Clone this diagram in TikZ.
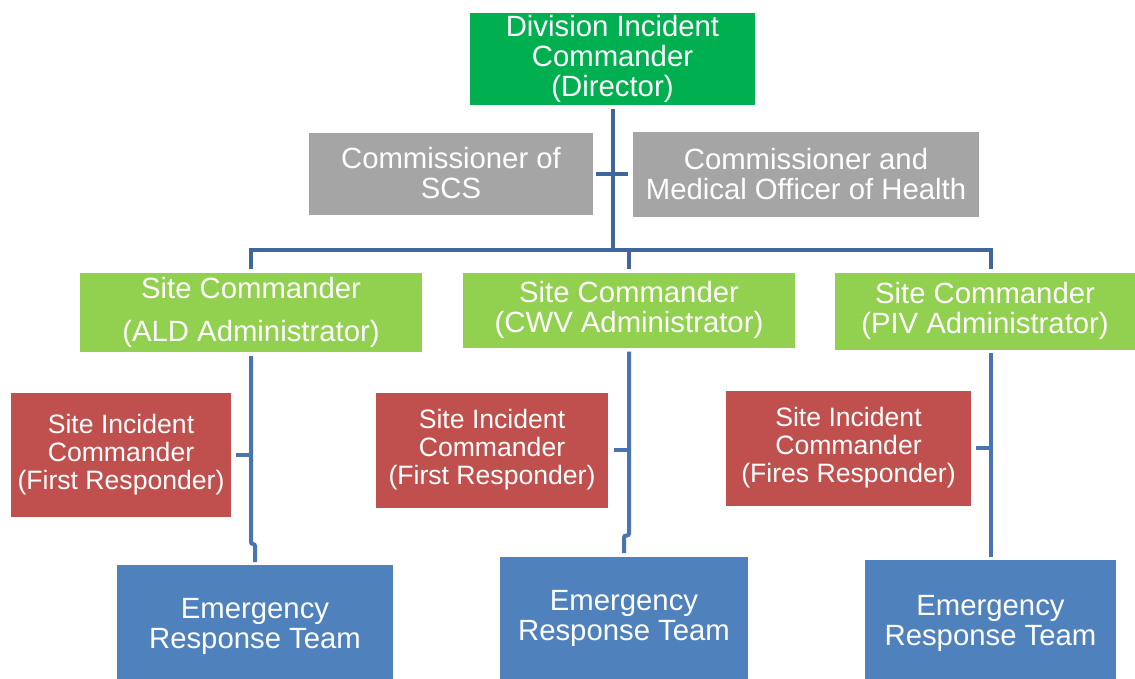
\documentclass[tikz,border=0pt]{standalone}
\usepackage{fontspec}
\setmainfont{Liberation Sans}
\definecolor{dirgreen}{HTML}{00B050}
\definecolor{boxgray}{HTML}{A5A5A5}
\definecolor{sitegreen}{HTML}{92D050}
\definecolor{sicred}{HTML}{C0504D}
\definecolor{ertblue}{HTML}{4F81BD}
\definecolor{linetop}{HTML}{40679B}
\definecolor{linelow}{HTML}{4875B2}
\begin{document}
\begin{tikzpicture}[x=1pt,y=-1pt,
  box/.style={rectangle, inner sep=0pt, outer sep=0pt, text=white, align=center,
    font=\fontsize{29.3}{30}\selectfont},
  sicbox/.style={box, fill=sicred, font=\fontsize{26.6}{28}\selectfont},
  conntop/.style={draw=linetop, line width=4pt},
  connlow/.style={draw=linelow, line width=4pt}]
\useasboundingbox (0,0) rectangle (1135,678);

\node[box, fill=dirgreen, minimum width=285pt, minimum height=92pt] (dir) at (612.5,59) {Division Incident\\Commander\\(Director)};
\node[box, fill=boxgray, minimum width=284pt, minimum height=82pt] (scs) at (451,173.5) {Commissioner of\\SCS};
\node[box, fill=boxgray, minimum width=346pt, minimum height=85pt] (moh) at (806,174) {Commissioner and\\Medical Officer of Health};

\node[box, fill=sitegreen, minimum width=342pt, minimum height=79pt, font=\fontsize{29.3}{43}\selectfont] (ald) at (251,312.5) {Site Commander\\(ALD Administrator)};
\node[box, fill=sitegreen, minimum width=332pt, minimum height=75pt] (cwv) at (629,310) {Site Commander\\(CWV Administrator)};
\node[box, fill=sitegreen, minimum width=300pt, minimum height=77pt] (piv) at (985,311) {Site Commander\\(PIV Administrator)};

\node[sicbox, minimum width=220pt, minimum height=124pt] (sic1) at (121,455) {Site Incident\\Commander\\(First Responder)};
\node[sicbox, minimum width=232pt, minimum height=115pt] (sic2) at (492,450) {Site Incident\\Commander\\(First Responder)};
\node[sicbox, minimum width=245pt, minimum height=115pt] (sic3) at (848.5,448) {Site Incident\\Commander\\(Fires Responder)};

\node[box, fill=ertblue, minimum width=276pt, minimum height=122pt] (ert1) at (255,626) {Emergency\\Response Team};
\node[box, fill=ertblue, minimum width=248pt, minimum height=122pt] (ert2) at (624,618) {Emergency\\Response Team};
\node[box, fill=ertblue, minimum width=251pt, minimum height=126pt] (ert3) at (990.5,623) {Emergency\\Response Team};

\coordinate (hub) at (612.5,250);
\draw[conntop] ([yshift=-4pt]dir.south) -- (hub);
\draw[conntop] ([yshift=4pt]ald.north) |- (hub) -| ([xshift=6pt,yshift=4pt]piv.north);
\draw[conntop] (hub -| cwv.north) -- ([yshift=4pt]cwv.north);
\draw[conntop] ([xshift=3pt]scs.east) -- ([xshift=-5pt]scs.east -| moh.west);

\draw[connlow, rounded corners=2pt] ([yshift=-4pt]ald.south) -- ++(0,188) -| ([yshift=3pt]ert1.north);
\draw[connlow] ([xshift=5pt]sic1.east) -- (sic1.east -| ald.south);
\draw[connlow, rounded corners=2pt] ([yshift=-4pt]cwv.south) -- ++(0,184) -| ([yshift=4pt]ert2.north);
\draw[connlow] ([xshift=6pt]sic2.east) -- (sic2.east -| cwv.south);
\draw[connlow] ([yshift=-3pt]ert3.north |- piv.south) -- ([yshift=3pt]ert3.north);
\draw[connlow] ([xshift=5pt]sic3.east) -- (sic3.east -| ert3.north);
\end{tikzpicture}
\end{document}
